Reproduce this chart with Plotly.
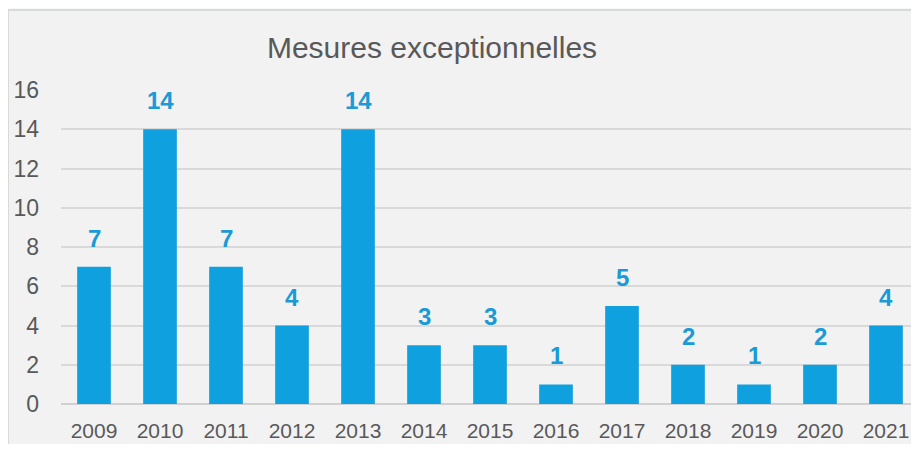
import plotly.graph_objects as go

years = ["2009", "2010", "2011", "2012", "2013", "2014", "2015",
         "2016", "2017", "2018", "2019", "2020", "2021"]
values = [7, 14, 7, 4, 14, 3, 3, 1, 5, 2, 1, 2, 4]
y_ticks = [0, 2, 4, 6, 8, 10, 12, 14, 16]
title_text = "Mesures exceptionnelles"

# page renders the figure offset by the body margin (~8px); visible area is 903 wide
OFF = 8
W, H = 903, 436
L, T = 61 - OFF, 90 - OFF
R = 0
B = H - (404 - OFF)
pw, ph = W - L - R, H - T - B
CAT = 66.0  # px per category

def px_x(p):
    return (p - OFF - L) / pw

def px_y(p):
    return (H - B - (p - OFF)) / ph

FONT = "Liberation Sans, Arial, sans-serif"

fig = go.Figure()
fig.add_trace(go.Bar(
    x=list(range(len(years))), y=values,
    width=0.51,
    marker=dict(color="#0fa0e0", line=dict(width=0)),
    hoverinfo="skip",
))

annotations = [
    dict(x=i, y=v, text=str(v), xref="x", yref="y", showarrow=False,
         yanchor="bottom", yshift=13,
         font=dict(family=FONT, size=24, color="#1a9ad6", weight="bold"))
    for i, v in enumerate(values)
]

fig.update_layout(
    width=W, height=H,
    margin=dict(l=L, r=R, t=T, b=B),
    paper_bgcolor="#f4f9fc",
    plot_bgcolor="#f2f2f2",
    showlegend=False,
    title=dict(text=title_text, x=(432 - OFF) / W, xref="container", xanchor="center",
               y=1 - (47 - OFF) / H, yref="container", yanchor="middle",
               font=dict(family=FONT, size=30, color="#595959")),
    xaxis=dict(
        range=[-0.5, -0.5 + pw / CAT],
        tickmode="array", tickvals=list(range(len(years))), ticktext=years,
        showgrid=False, zeroline=False, showline=False,
        ticks="", ticklabelstandoff=12,
        tickfont=dict(family=FONT, size=21, color="#595959"),
        fixedrange=True,
    ),
    yaxis=dict(
        range=[0, 16], tickvals=y_ticks,
        showgrid=True, gridcolor="#d9d9d9", gridwidth=2,
        zeroline=True, zerolinecolor="#d0d0d0", zerolinewidth=2,
        showline=False, ticks="", ticklabelstandoff=21,
        tickfont=dict(family=FONT, size=23, color="#595959"),
        fixedrange=True,
    ),
    shapes=[dict(type="rect", xref="paper", yref="paper",
                 x0=px_x(8), x1=px_x(W + 60), y0=px_y(H + 60), y1=px_y(10),
                 fillcolor="#f2f2f2", line=dict(color="#d9d9d9", width=2),
                 layer="below")],
    annotations=annotations,
)

fig.write_html("out.html")
